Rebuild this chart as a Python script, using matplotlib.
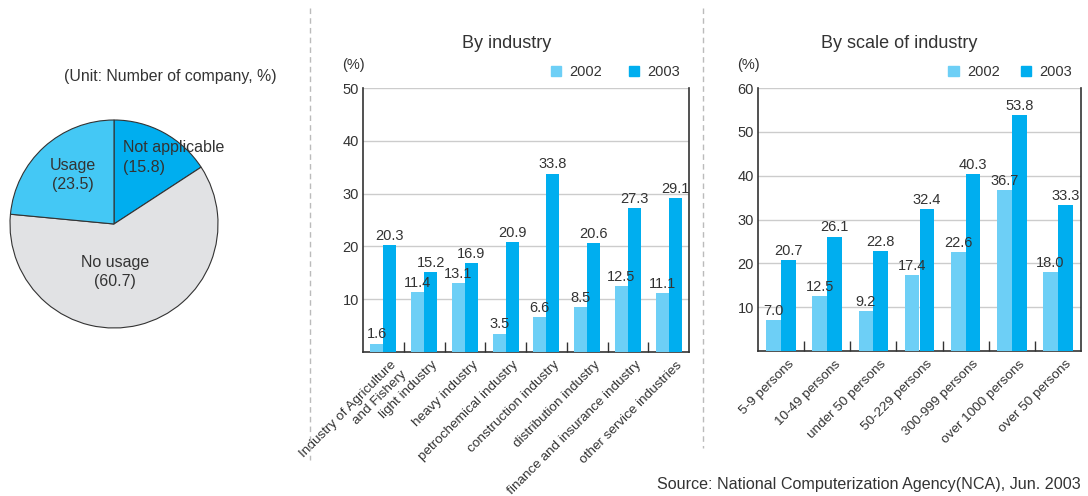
import numpy as np
import matplotlib
matplotlib.use("Agg")
from matplotlib import pyplot as plt
from matplotlib.patches import Patch
from matplotlib.lines import Line2D

plt.rcParams['font.family'] = ['Liberation Sans', 'DejaVu Sans']

TXT = '#333333'
C02 = '#6dcff6'
C03 = '#00aeef'

# pie: usage of the service
pie_labels = ['Not applicable', 'No usage', 'Usage']
pie_values = [15.8, 60.7, 23.5]
pie_colors = ['#00aeef', '#e1e2e4', '#44c8f5']

# by industry
industries = ['Industry of Agriculture\nand Fishery', 'light industry', 'heavy industry',
              'petrochemical industry', 'construction industry', 'distribution industry',
              'finance and insurance industry', 'other service industries']
ind_2002 = [1.6, 11.4, 13.1, 3.5, 6.6, 8.5, 12.5, 11.1]
ind_2003 = [20.3, 15.2, 16.9, 20.9, 33.8, 20.6, 27.3, 29.1]

# by scale of industry
scales = ['5-9 persons', '10-49 persons', 'under 50 persons', '50-229 persons',
          '300-999 persons', 'over 1000 persons', 'over 50 persons']
sc_2002 = [7.0, 12.5, 9.2, 17.4, 22.6, 36.7, 18.0]
sc_2003 = [20.7, 26.1, 22.8, 32.4, 40.3, 53.8, 33.3]

W, H = 1088, 496
fig = plt.figure(figsize=(W / 100, H / 100), dpi=100)


def px(x, y, w, h):
    # pixel box (top-left origin) -> figure fraction rect
    return [x / W, 1 - (y + h) / H, w / W, h / H]


# ---- pie ----
axp = fig.add_axes(px(8, 118, 212, 212))
axp.pie(pie_values, colors=pie_colors, startangle=90, counterclock=False,
        wedgeprops=dict(edgecolor='#333333', linewidth=0.8))
lim = 106 / 104
axp.set_xlim(-lim, lim)
axp.set_ylim(-lim, lim)
axp.set_aspect('equal')
axp.text(0.09, 0.64, 'Not applicable\n(15.8)', ha='left', va='center',
         fontsize=11.5, color=TXT, linespacing=1.35)
axp.text(-0.40, 0.47, 'Usage\n(23.5)', ha='center', va='center',
         fontsize=11.5, color=TXT, linespacing=1.35)
axp.text(0.01, -0.46, 'No usage\n(60.7)', ha='center', va='center',
         fontsize=11.5, color=TXT, linespacing=1.35)
fig.text(170 / W, 1 - 77 / H, '(Unit: Number of company, %)', ha='center',
         va='center', fontsize=11.4, color=TXT)


def bar_panel(rect, cats, v02, v03, ymax, title, title_x, colsp, divider=None):
    ax = fig.add_axes(rect)
    x = np.arange(len(cats))
    bw = 0.32
    ax.bar(x - bw / 2, v02, bw, color=C02, zorder=3)
    ax.bar(x + bw / 2, v03, bw, color=C03, zorder=3)
    for xi, a, b in zip(x, v02, v03):
        ax.text(xi - bw / 2, a + ymax * 0.008, f'{a:.1f}', ha='center', va='bottom',
                fontsize=10.5, color=TXT, zorder=4)
        ax.text(xi + bw / 2, b + ymax * 0.008, f'{b:.1f}', ha='center', va='bottom',
                fontsize=10.5, color=TXT, zorder=4)
    ax.set_xlim(-0.5, len(cats) - 0.5)
    ax.set_ylim(0, ymax)
    ax.set_yticks(np.arange(10, ymax + 1, 10))
    ax.yaxis.grid(True, color='#cccccc', linewidth=1, zorder=0)
    ax.tick_params(axis='y', length=0, pad=3, labelsize=10.5, labelcolor=TXT)
    bounds = [b for b in np.arange(0.5, len(cats) - 1, 1.0) if b != divider]
    ax.set_xticks(bounds)
    ax.set_xticklabels([])
    ax.tick_params(axis='x', direction='in', length=7, color='#333333', width=1)
    for i, c in enumerate(cats):
        ax.annotate(c, xy=(i, 0), xytext=(5, -5), textcoords='offset points',
                    rotation=45, ha='right', va='top', rotation_mode='anchor',
                    fontsize=9.7, color=TXT, annotation_clip=False, multialignment='right')
    for s in ['left', 'bottom', 'right']:
        ax.spines[s].set_color('#333333')
        ax.spines[s].set_linewidth(1.2)
    ax.spines['top'].set_visible(False)
    if divider is not None:
        ax.axvline(divider, color='#333333', linewidth=1.2, zorder=4)
    handles = [Patch(color=C02, label='2002'), Patch(color=C03, label='2003')]
    leg = ax.legend(handles=handles, loc='lower right', bbox_to_anchor=(1.0, 1.0),
                    ncol=2, frameon=False, fontsize=10.5, handlelength=0.7,
                    handleheight=0.7, handletextpad=0.6, columnspacing=colsp,
                    borderaxespad=0.2)
    for t in leg.get_texts():
        t.set_color(TXT)
    ax.text(-0.03, 1.06, '(%)', transform=ax.transAxes, ha='center', va='bottom',
            fontsize=10.5, color=TXT)
    fig.text(title_x / W, 1 - 44 / H, title, ha='center', va='center',
             fontsize=13, color=TXT)
    return ax


bar_panel(px(363, 88, 326, 264), industries, ind_2002, ind_2003, 50,
          'By industry', 507, 1.8)
bar_panel(px(758, 88, 323, 263), scales, sc_2002, sc_2003, 60,
          'By scale of industry', 899, 1.4)

# dashed panel separators
for xs, y1 in [(310, 460), (703, 448)]:
    fig.add_artist(Line2D([xs / W, xs / W], [1 - 8 / H, 1 - y1 / H],
                          color='#bbbbbb', linewidth=1, linestyle=(0, (4, 3))))

fig.text(1081 / W, 1 - 484 / H, 'Source: National Computerization Agency(NCA), Jun. 2003',
         ha='right', va='center', fontsize=11.6, color=TXT)

fig.savefig('out.png', dpi=100)
